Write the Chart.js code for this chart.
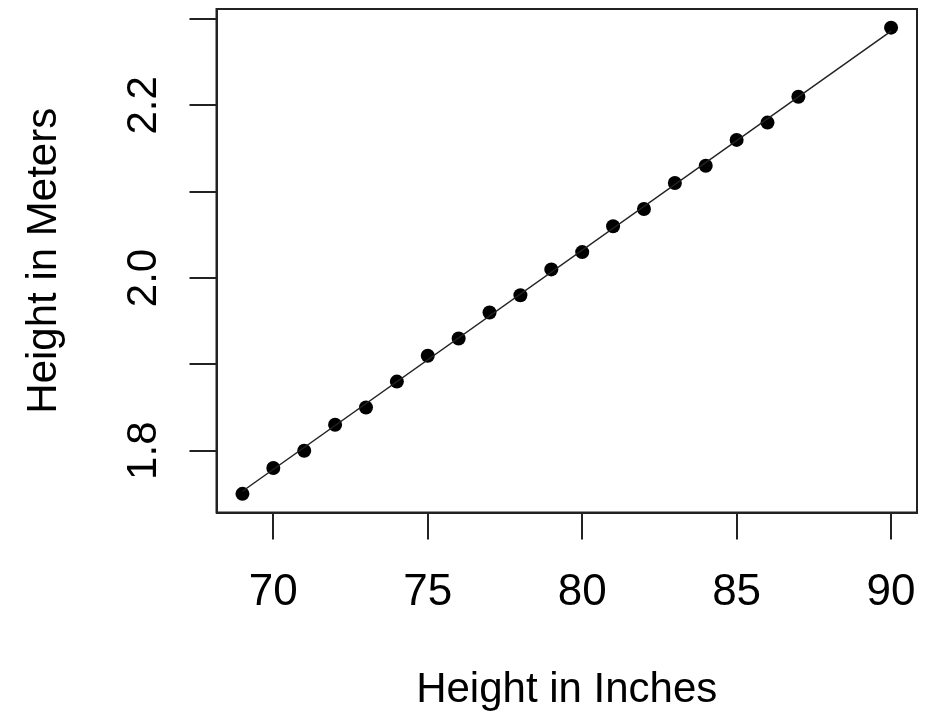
<!DOCTYPE html>
<html>
<head>
<meta charset="utf-8">
<script src="https://cdn.jsdelivr.net/npm/chart.js@4"></script>
<style>
  body { margin: 0; background: #fff; }
  canvas { display: block; }
</style>
</head>
<body>
<canvas id="chart" width="927" height="717"></canvas>
<script>
// heights
const inches = [69, 70, 71, 72, 73, 74, 75, 76, 77, 78, 79, 80, 81, 82, 83, 84, 85, 86, 87, 90];
const meters = [1.75, 1.78, 1.80, 1.83, 1.85, 1.88, 1.91, 1.93, 1.96, 1.98, 2.01, 2.03, 2.06, 2.08, 2.11, 2.13, 2.16, 2.18, 2.21, 2.29];

// fitted line, from first to last point
const fitInches = [69, 90];
const fitMeters = [1.753, 2.286];

const xTicks = [70, 75, 80, 85, 90];
const yTicks = [1.8, 1.9, 2.0, 2.1, 2.2, 2.3];
const yTickLabels = ["1.8", "", "2.0", "", "2.2", ""];

const xTitle = "Height in Inches";
const yTitle = "Height in Meters";

const FONT = '"Liberation Sans", Arial, sans-serif';
const INK = "#222";

// R-style box, rotated y labels and titles
const rAxes = {
  id: "rAxes",
  afterDraw(chart) {
    const ctx = chart.ctx;
    const area = chart.chartArea;
    const xs = chart.scales.x;
    const ys = chart.scales.y;
    ctx.save();
    ctx.strokeStyle = INK;
    ctx.lineWidth = 2;
    ctx.strokeRect(area.left, area.top, area.right - area.left, area.bottom - area.top);

    ctx.fillStyle = "#000";
    ctx.textAlign = "center";
    ctx.textBaseline = "alphabetic";

    // x tick labels
    ctx.font = "44px " + FONT;
    xTicks.forEach(v => {
      ctx.fillText(String(v), xs.getPixelForValue(v), 605);
    });

    // x title
    ctx.font = "42px " + FONT;
    ctx.fillText(xTitle, (area.left + area.right) / 2, 702);

    // y tick labels, turned
    ctx.font = "42px " + FONT;
    yTicks.forEach((v, i) => {
      if (!yTickLabels[i]) return;
      ctx.save();
      ctx.translate(156, ys.getPixelForValue(v));
      ctx.rotate(-Math.PI / 2);
      ctx.fillText(yTickLabels[i], 0, 0);
      ctx.restore();
    });

    // y title
    ctx.save();
    ctx.translate(56, (area.top + area.bottom) / 2);
    ctx.rotate(-Math.PI / 2);
    ctx.font = "42px " + FONT;
    ctx.fillText(yTitle, 0, 0);
    ctx.restore();

    ctx.restore();
  }
};

const config = {
  type: "scatter",
  data: {
    datasets: [
      {
        label: "points",
        data: inches.map((x, i) => ({ x: x, y: meters[i] })),
        backgroundColor: "#000",
        borderColor: "#000",
        borderWidth: 0,
        pointRadius: 7,
        pointHoverRadius: 7,
        showLine: false,
        order: 1
      },
      {
        label: "fit",
        data: fitInches.map((x, i) => ({ x: x, y: fitMeters[i] })),
        borderColor: INK,
        borderWidth: 1.5,
        pointRadius: 0,
        showLine: true,
        fill: false,
        order: 0
      }
    ]
  },
  options: {
    responsive: false,
    devicePixelRatio: 1,
    animation: false,
    layout: { padding: { top: 9, right: 10, left: 0, bottom: 0 } },
    plugins: {
      legend: { display: false },
      tooltip: { enabled: false }
    },
    scales: {
      x: {
        type: "linear",
        min: 68.16,
        max: 90.84,
        afterBuildTicks: s => { s.ticks = xTicks.map(v => ({ value: v })); },
        afterFit: s => { s.height = 204.5; },
        ticks: { display: false },
        grid: { drawOnChartArea: false, drawTicks: true, tickLength: 27, color: INK, lineWidth: 2 },
        border: { display: true, color: INK, width: 2 }
      },
      y: {
        type: "linear",
        min: 1.7284,
        max: 2.3116,
        afterBuildTicks: s => { s.ticks = yTicks.map(v => ({ value: v })); },
        afterFit: s => { s.width = 216.5; },
        ticks: { display: false },
        grid: { drawOnChartArea: false, drawTicks: true, tickLength: 27, color: INK, lineWidth: 2 },
        border: { display: true, color: INK, width: 2 }
      }
    }
  },
  plugins: [rAxes]
};

const heightChart = new Chart(document.getElementById("chart"), config);
</script>
</body>
</html>
